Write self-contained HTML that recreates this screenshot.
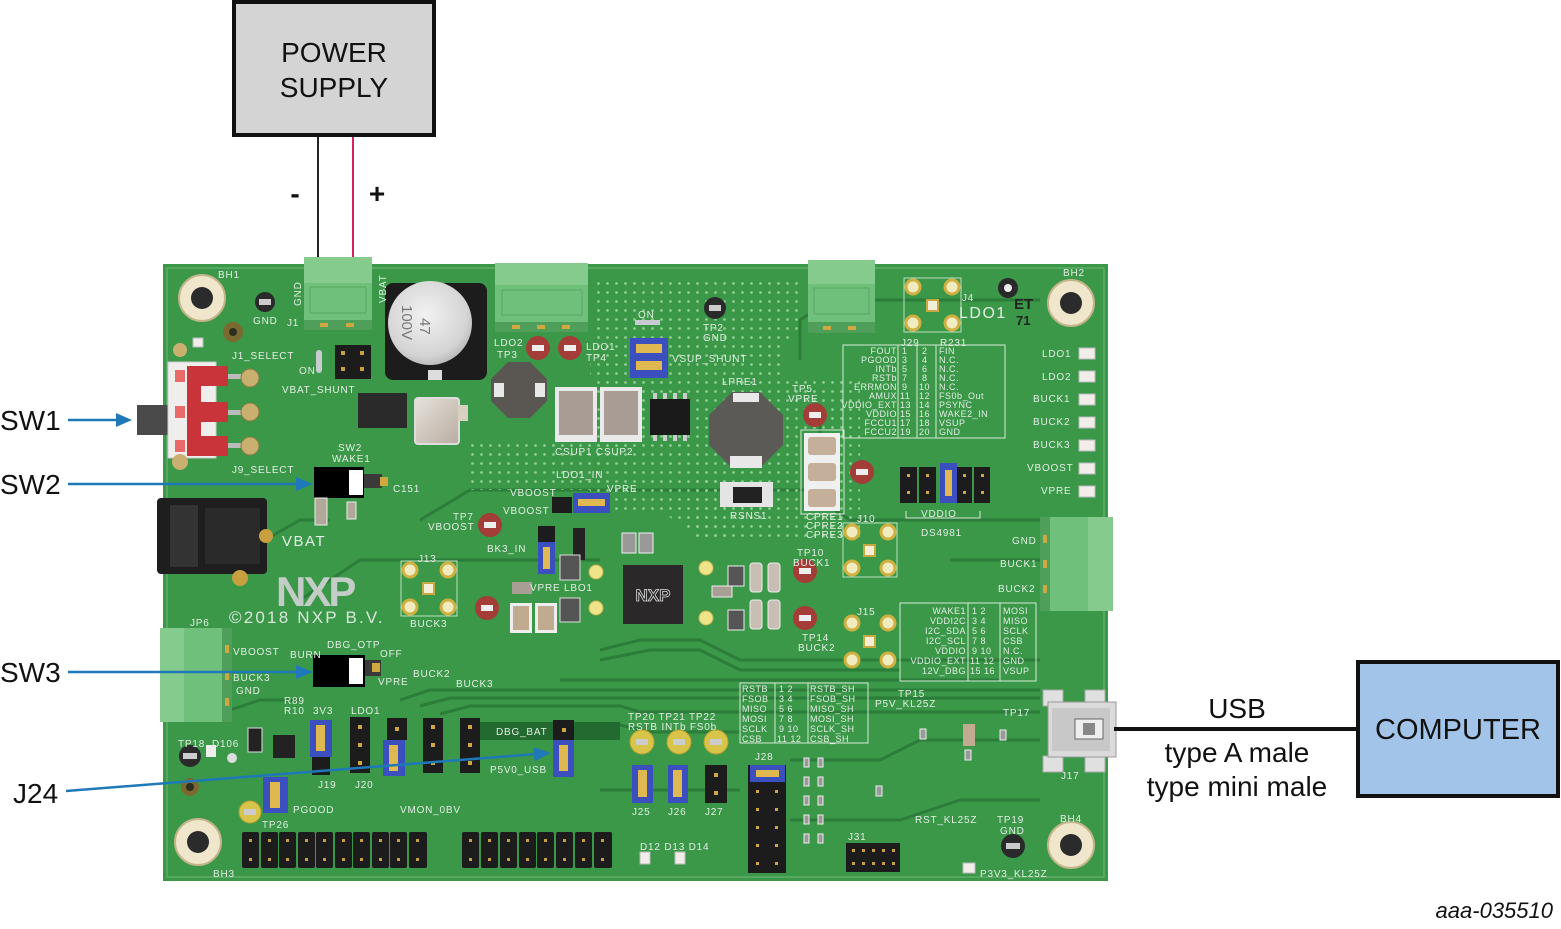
<!DOCTYPE html>
<html><head><meta charset="utf-8">
<style>
html,body{margin:0;padding:0;background:#fff;}
svg{display:block;}
text{font-family:"Liberation Sans",sans-serif;}
.s{fill:#e4eee4;font-size:10px;letter-spacing:0.8px;}
.sm{fill:#e4eee4;font-size:9px;letter-spacing:0.5px;}
.lbl{font-size:28px;fill:#111;}
</style></head><body>
<svg width="1561" height="929" viewBox="0 0 1561 929" xmlns="http://www.w3.org/2000/svg">
<defs>
<pattern id="dots" width="9" height="9" patternUnits="userSpaceOnUse"><circle cx="4.5" cy="4.5" r="1.4" fill="#8fcb92"/></pattern>
<radialGradient id="silver" cx="0.45" cy="0.4" r="0.7"><stop offset="0" stop-color="#f2f2f2"/><stop offset="0.7" stop-color="#d4d4d4"/><stop offset="1" stop-color="#a8a8a8"/></radialGradient>
<linearGradient id="cap" x1="0" y1="0" x2="1" y2="1"><stop offset="0" stop-color="#e6e2dc"/><stop offset="1" stop-color="#b8aca0"/></linearGradient>
</defs>
<rect width="1561" height="929" fill="#fff"/>

<!-- POWER SUPPLY -->
<rect x="234" y="2" width="200" height="133" fill="#d4d4d4" stroke="#111" stroke-width="4"/>
<text x="334" y="62" text-anchor="middle" class="lbl">POWER</text>
<text x="334" y="97" text-anchor="middle" class="lbl">SUPPLY</text>
<line x1="318" y1="137" x2="318" y2="260" stroke="#222" stroke-width="2"/>
<line x1="353" y1="137" x2="353" y2="260" stroke="#d8205a" stroke-width="2"/>
<text x="295" y="203" text-anchor="middle" font-size="28" font-weight="bold" fill="#111">-</text>
<text x="377" y="203" text-anchor="middle" font-size="28" font-weight="bold" fill="#111">+</text>

<!-- BOARD -->
<rect x="163" y="264" width="945" height="617" fill="#3a9848"/>
<rect x="167" y="268" width="937" height="609" fill="none" stroke="#5fae69" stroke-width="1.5"/>
<!-- darker trace areas -->
<g fill="none" stroke="#2b7d39" stroke-width="3">
<polyline points="420,520 470,490 840,490"/>
<polyline points="300,600 360,560 600,560"/>
<polyline points="230,560 300,520 330,520"/>
<polyline points="400,700 430,690 1040,690"/>
<polyline points="420,706 450,698 1040,698"/>
<polyline points="440,714 470,706 620,706 640,712 1040,712"/>
<polyline points="480,725 620,725 650,732 740,732"/>
<polyline points="600,650 640,640 700,640 740,660 1040,660"/>
<polyline points="600,660 650,650 700,650 740,670 900,670"/>
<polyline points="560,680 1000,680"/>
<polyline points="800,360 800,320 830,300 1040,300"/>
<polyline points="200,720 260,700 300,700"/>
<polyline points="600,790 740,790"/>
<polyline points="790,820 900,820 960,800 1040,800"/>
<polyline points="790,760 880,760 920,740 1040,740"/>
<polyline points="950,560 1040,560"/>
<polyline points="820,420 820,500 850,520 1040,520"/>
</g>
<rect x="480" y="722" width="140" height="18" fill="#236a30"/>
<!-- via grid -->
<polygon points="592,278 800,278 800,330 780,345 780,540 700,540 660,510 590,510 590,440 600,400 590,380" fill="url(#dots)"/>
<rect x="470" y="440" width="130" height="50" fill="url(#dots)"/>
<rect x="785" y="380" width="75" height="160" fill="url(#dots)"/>
<rect x="690" y="480" width="40" height="60" fill="url(#dots)"/>

<!-- Mounting holes -->
<g>
<circle cx="202" cy="298" r="23" fill="#efe6cc" stroke="#c4b48a" stroke-width="2"/><circle cx="202" cy="298" r="11" fill="#2b2b2b"/>
<circle cx="1071" cy="303" r="23" fill="#efe6cc" stroke="#c4b48a" stroke-width="2"/><circle cx="1071" cy="303" r="11" fill="#2b2b2b"/>
<circle cx="198" cy="842" r="23" fill="#efe6cc" stroke="#c4b48a" stroke-width="2"/><circle cx="198" cy="842" r="11" fill="#2b2b2b"/>
<circle cx="1071" cy="845" r="23" fill="#efe6cc" stroke="#c4b48a" stroke-width="2"/><circle cx="1071" cy="845" r="11" fill="#2b2b2b"/>
</g>

<!-- Terminal blocks -->
<g>
<!-- J1 -->
<rect x="304" y="257" width="68" height="73" fill="#6fc07a"/>
<rect x="304" y="257" width="68" height="26" fill="#84cb8d"/>
<rect x="310" y="287" width="56" height="26" fill="none" stroke="#5aa865"/>
<rect x="304" y="320" width="68" height="10" fill="#4f9f5a"/>
<rect x="320" y="323" width="8" height="4" fill="#d0a840"/><rect x="346" y="323" width="8" height="4" fill="#d0a840"/>
<!-- J2 -->
<rect x="495" y="263" width="93" height="69" fill="#6fc07a"/>
<rect x="495" y="263" width="93" height="22" fill="#84cb8d"/>
<rect x="502" y="290" width="80" height="25" fill="none" stroke="#5aa865"/>
<rect x="495" y="322" width="93" height="10" fill="#4f9f5a"/>
<rect x="512" y="325" width="8" height="4" fill="#d0a840"/><rect x="537" y="325" width="8" height="4" fill="#d0a840"/><rect x="562" y="325" width="8" height="4" fill="#d0a840"/>
<!-- J3 -->
<rect x="808" y="260" width="67" height="73" fill="#6fc07a"/>
<rect x="808" y="260" width="67" height="24" fill="#84cb8d"/>
<rect x="814" y="288" width="55" height="26" fill="none" stroke="#5aa865"/>
<rect x="808" y="322" width="67" height="11" fill="#4f9f5a"/>
<rect x="823" y="326" width="8" height="4" fill="#d0a840"/><rect x="848" y="326" width="8" height="4" fill="#d0a840"/>
<!-- J12 -->
<rect x="1040" y="517" width="73" height="94" fill="#6fc07a"/>
<rect x="1088" y="517" width="25" height="94" fill="#84cb8d"/>
<rect x="1040" y="517" width="10" height="94" fill="#4f9f5a"/>
<rect x="1043" y="535" width="4" height="8" fill="#d0a840"/><rect x="1043" y="560" width="4" height="8" fill="#d0a840"/><rect x="1043" y="585" width="4" height="8" fill="#d0a840"/>
<!-- JP6 -->
<rect x="160" y="628" width="72" height="94" fill="#6fc07a"/>
<rect x="160" y="628" width="24" height="94" fill="#84cb8d"/>
<rect x="222" y="628" width="10" height="94" fill="#4f9f5a"/>
<rect x="225" y="645" width="4" height="8" fill="#d0a840"/><rect x="225" y="672" width="4" height="8" fill="#d0a840"/><rect x="225" y="698" width="4" height="8" fill="#d0a840"/>
</g>

<!-- CBAT1 -->
<rect x="385" y="283" width="102" height="97" rx="8" fill="#1c1c1c"/>
<circle cx="430" cy="323" r="42" fill="url(#silver)"/>
<text x="420" y="318" transform="rotate(90 420 318)" font-size="15" fill="#777">47</text>
<text x="402" y="305" transform="rotate(90 402 305)" font-size="15" fill="#777">100V</text>
<rect x="428" y="370" width="14" height="10" fill="#ddd"/>

<!-- Test points -->
<g>
<circle cx="265" cy="302" r="10" fill="#2a2a2a"/><rect x="259" y="299" width="12" height="6" fill="#ccc"/>
<circle cx="233" cy="332" r="10" fill="#7a6a30"/><circle cx="233" cy="332" r="4" fill="#2d2d20"/>
<circle cx="715" cy="308" r="11" fill="#2a2a2a"/><rect x="709" y="305" width="12" height="6" fill="#ccc"/>
<circle cx="1008" cy="288" r="10" fill="#2a2a2a"/><circle cx="1008" cy="288" r="4" fill="#eee"/>
<circle cx="190" cy="756" r="11" fill="#2a2a2a"/><rect x="183" y="753" width="14" height="6" fill="#ccc"/>
<circle cx="1013" cy="846" r="12" fill="#2a2a2a"/><rect x="1006" y="843" width="14" height="6" fill="#ccc"/>
<circle cx="190" cy="787" r="9" fill="#7a6a30"/><circle cx="190" cy="787" r="4" fill="#2d2d20"/>
<circle cx="232" cy="758" r="5" fill="#ddd"/>
</g>
<g fill="#a43c38">
<circle cx="538" cy="348" r="12"/><circle cx="570" cy="348" r="12"/>
<circle cx="490" cy="525" r="12"/><circle cx="487" cy="608" r="12"/>
<circle cx="815" cy="415" r="12"/><circle cx="862" cy="472" r="12"/>
<circle cx="805" cy="571" r="12"/><circle cx="805" cy="618" r="12"/>
</g>
<g fill="#eee">
<rect x="532" y="345" width="12" height="6"/><rect x="564" y="345" width="12" height="6"/>
<rect x="484" y="522" width="12" height="6"/><rect x="481" y="605" width="12" height="6"/>
<rect x="809" y="412" width="12" height="6"/><rect x="856" y="469" width="12" height="6"/>
<rect x="799" y="568" width="12" height="6"/><rect x="799" y="615" width="12" height="6"/>
</g>
<g fill="#d9c44a" stroke="#b8a030" stroke-width="1">
<circle cx="642" cy="742" r="12"/><circle cx="679" cy="742" r="12"/><circle cx="716" cy="742" r="12"/>
<circle cx="250" cy="812" r="11"/>
</g>
<g fill="#ccc"><rect x="636" y="739" width="12" height="6"/><rect x="673" y="739" width="12" height="6"/><rect x="710" y="739" width="12" height="6"/><rect x="244" y="809" width="12" height="6"/></g>
<g fill="#efe48a" stroke="#c8b850">
<circle cx="596" cy="572" r="7"/><circle cx="596" cy="608" r="7"/><circle cx="706" cy="568" r="7"/><circle cx="706" cy="618" r="7"/>
</g>

<!-- pad clusters J13 J10 J4 J15 -->
<g fill="#f1ecc0" stroke="#d0b040" stroke-width="3">
<circle cx="410" cy="570" r="7"/><circle cx="448" cy="570" r="7"/><circle cx="410" cy="607" r="7"/><circle cx="448" cy="607" r="7"/>
<circle cx="852" cy="532" r="7"/><circle cx="888" cy="532" r="7"/><circle cx="852" cy="568" r="7"/><circle cx="888" cy="568" r="7"/>
<circle cx="913" cy="287" r="7"/><circle cx="952" cy="287" r="7"/><circle cx="913" cy="323" r="7"/><circle cx="952" cy="323" r="7"/>
<circle cx="852" cy="623" r="7"/><circle cx="888" cy="623" r="7"/><circle cx="852" cy="660" r="7"/><circle cx="888" cy="660" r="7"/>
</g>
<g fill="#f4f0d8" stroke="#c8a840" stroke-width="2">
<rect x="423" y="583" width="11" height="11"/><rect x="864" y="545" width="11" height="11"/><rect x="927" y="300" width="11" height="11"/><rect x="864" y="636" width="11" height="11"/>
</g>
<g fill="none" stroke="#bfe0c0" stroke-width="1">
<rect x="401" y="561" width="56" height="55"/><rect x="843" y="523" width="54" height="54"/><rect x="904" y="278" width="57" height="54"/>
</g>

<!-- SW1 slide switch -->
<rect x="137" y="405" width="33" height="30" fill="#4a4a4a"/>
<rect x="168" y="362" width="48" height="96" fill="#f0eeec" stroke="#ccc"/>
<g fill="#c8343a">
<rect x="187" y="366" width="14" height="88"/>
<rect x="187" y="366" width="41" height="20"/><rect x="187" y="402" width="41" height="20"/><rect x="187" y="436" width="41" height="20"/>
</g>
<g fill="#e86a6a"><rect x="175" y="370" width="10" height="12"/><rect x="175" y="406" width="10" height="12"/><rect x="175" y="440" width="10" height="12"/></g>
<g fill="#bbb"><rect x="228" y="374" width="22" height="5"/><rect x="228" y="410" width="22" height="5"/><rect x="228" y="443" width="22" height="5"/></g>
<g fill="#c9b070" stroke="#8a7a40"><circle cx="250" cy="378" r="9"/><circle cx="250" cy="412" r="9"/><circle cx="250" cy="446" r="9"/></g>
<circle cx="180" cy="462" r="8" fill="#c9b070"/>
<circle cx="180" cy="350" r="7" fill="#c9b070"/>

<!-- DC jack J9 -->
<rect x="157" y="498" width="110" height="76" rx="4" fill="#1e1e1e"/>
<rect x="170" y="505" width="28" height="62" fill="#333"/>
<rect x="205" y="508" width="55" height="56" fill="#2a2a2a"/>
<circle cx="266" cy="536" r="7" fill="#c9a040"/>
<circle cx="240" cy="578" r="8" fill="#c9a040"/>

<!-- SW2 -->
<rect x="314" y="467" width="50" height="31" fill="#000"/>
<rect x="349" y="470" width="14" height="25" fill="#fff"/>
<rect x="364" y="474" width="18" height="14" fill="#3a3a3a"/>
<rect x="380" y="477" width="8" height="9" fill="#d0a840"/>
<!-- SW3 -->
<rect x="313" y="655" width="52" height="32" fill="#000"/>
<rect x="349" y="658" width="14" height="26" fill="#fff"/>
<rect x="365" y="660" width="16" height="16" fill="#3a3a3a"/>
<rect x="372" y="663" width="8" height="9" fill="#d0a840"/>

<!-- misc components top -->
<rect x="335" y="345" width="36" height="34" fill="#1c1c1c"/>
<g fill="#c8a040"><rect x="341" y="351" width="4" height="4"/><rect x="360" y="351" width="4" height="4"/><rect x="341" y="367" width="4" height="4"/><rect x="360" y="367" width="4" height="4"/></g>
<rect x="316" y="350" width="6" height="23" rx="3" fill="#c8ccd0"/>
<rect x="358" y="393" width="49" height="35" fill="#2a2a2a"/>
<rect x="415" y="398" width="44" height="46" rx="3" fill="url(#cap)" stroke="#ddd" stroke-width="2"/>
<rect x="458" y="405" width="10" height="16" fill="#d8d0c0"/>
<!-- LP1 -->
<polygon points="508,362 530,362 547,379 547,401 530,418 508,418 491,401 491,379" fill="#5a5753"/>
<rect x="494" y="383" width="10" height="14" fill="#e8e8e8"/><rect x="535" y="383" width="10" height="14" fill="#e8e8e8"/>
<!-- CSUP -->
<rect x="555" y="387" width="42" height="55" fill="#eaeaea"/><rect x="559" y="391" width="34" height="44" fill="#a89c94"/>
<rect x="600" y="387" width="42" height="55" fill="#eaeaea"/><rect x="604" y="391" width="34" height="44" fill="#a89c94"/>
<!-- Q1 -->
<rect x="650" y="399" width="40" height="36" fill="#1a1a1a"/>
<g fill="#ccc"><rect x="653" y="393" width="4" height="6"/><rect x="663" y="393" width="4" height="6"/><rect x="673" y="393" width="4" height="6"/><rect x="683" y="393" width="4" height="6"/>
<rect x="653" y="435" width="4" height="6"/><rect x="663" y="435" width="4" height="6"/><rect x="673" y="435" width="4" height="6"/><rect x="683" y="435" width="4" height="6"/></g>
<!-- VSUP shunt jumper -->
<rect x="630" y="338" width="38" height="40" fill="#3b4fbf"/>
<rect x="636" y="344" width="26" height="9" fill="#e0b850"/><rect x="636" y="361" width="26" height="9" fill="#e0b850"/>
<rect x="635" y="320" width="25" height="5" fill="#c8ccd0"/>
<!-- LPRE1 -->
<polygon points="732,392 760,392 783,415 783,445 760,468 732,468 709,445 709,415" fill="#5c5a56"/>
<rect x="733" y="393" width="26" height="9" fill="#e8e8e8"/><rect x="730" y="456" width="32" height="12" fill="#e8e8e8"/>
<!-- RSNS1 -->
<rect x="720" y="482" width="53" height="25" fill="#e4e4e4"/><rect x="733" y="487" width="29" height="16" fill="#222"/>
<!-- CPRE caps -->
<g fill="#f0f0f0"><rect x="804" y="433" width="36" height="26"/><rect x="804" y="459" width="36" height="26"/><rect x="804" y="485" width="36" height="26"/></g>
<g fill="#c4b09a"><rect x="808" y="437" width="28" height="18" rx="3"/><rect x="808" y="463" width="28" height="18" rx="3"/><rect x="808" y="489" width="28" height="18" rx="3"/></g>
<!-- J7 -->
<rect x="552" y="497" width="20" height="16" fill="#1c1c1c"/>
<rect x="573" y="493" width="37" height="20" fill="#3b4fbf"/><rect x="578" y="499" width="27" height="7" fill="#e0b850"/>
<!-- J11 -->
<rect x="538" y="526" width="17" height="16" fill="#1c1c1c"/>
<rect x="538" y="542" width="17" height="32" fill="#3b4fbf"/><rect x="543" y="547" width="7" height="22" fill="#e0b850"/>
<rect x="573" y="528" width="12" height="32" fill="#222"/>
<rect x="560" y="555" width="20" height="25" fill="#555" stroke="#ddd"/>
<rect x="560" y="598" width="20" height="24" fill="#555" stroke="#ddd"/>
<rect x="510" y="603" width="22" height="30" fill="#eee"/><rect x="513" y="606" width="16" height="24" fill="#c0aa90"/>
<rect x="535" y="603" width="22" height="30" fill="#eee"/><rect x="538" y="606" width="16" height="24" fill="#c0aa90"/>
<rect x="512" y="582" width="20" height="12" fill="#a89e94"/>
<rect x="315" y="498" width="12" height="27" fill="#b0a898" stroke="#eee"/>
<rect x="347" y="502" width="9" height="17" fill="#b0a898" stroke="#eee"/>
<rect x="622" y="533" width="14" height="20" fill="#999" stroke="#eee"/><rect x="639" y="533" width="14" height="20" fill="#999" stroke="#eee"/>

<!-- NXP chip -->
<rect x="623" y="565" width="60" height="59" fill="#2a2828"/>
<text x="653" y="601" text-anchor="middle" font-size="17" font-weight="bold" fill="none" stroke="#ddd" stroke-width="0.8">NXP</text>
<g fill="#999">
<rect x="728" y="566" width="16" height="20" fill="#555" stroke="#eee"/><rect x="728" y="610" width="16" height="20" fill="#555" stroke="#eee"/>
<rect x="750" y="563" width="12" height="29" rx="3" fill="#c8beb4" stroke="#eee"/><rect x="768" y="563" width="12" height="29" rx="3" fill="#c8beb4" stroke="#eee"/>
<rect x="750" y="600" width="12" height="29" rx="3" fill="#c8beb4" stroke="#eee"/><rect x="768" y="600" width="12" height="29" rx="3" fill="#c8beb4" stroke="#eee"/>
<rect x="712" y="586" width="20" height="11" fill="#a89e94" stroke="#eee"/>
</g>

<!-- NXP logo & copyright -->
<text x="276" y="606" font-size="42" font-weight="bold" fill="#c4ccc8" letter-spacing="-3">NXP</text>
<text x="229" y="623" font-size="17" fill="#dbe8dc" letter-spacing="2.2">©2018 NXP B.V.</text>

<!-- J8 header -->
<g fill="#1c1c1c"><rect x="900" y="467" width="17" height="36"/><rect x="919" y="467" width="17" height="36"/><rect x="957" y="467" width="15" height="36"/><rect x="974" y="467" width="16" height="36"/></g>
<rect x="940" y="463" width="17" height="40" fill="#3b4fbf"/><rect x="945" y="470" width="7" height="26" fill="#e0b850"/>
<g fill="#d0a840"><rect x="907" y="474" width="3" height="3"/><rect x="907" y="491" width="3" height="3"/><rect x="926" y="474" width="3" height="3"/><rect x="926" y="491" width="3" height="3"/><rect x="963" y="474" width="3" height="3"/><rect x="963" y="491" width="3" height="3"/><rect x="981" y="474" width="3" height="3"/><rect x="981" y="491" width="3" height="3"/></g>

<!-- LEDs right column -->
<g fill="#f2ede8" stroke="#bbb"><rect x="1079" y="348" width="16" height="11"/><rect x="1079" y="371" width="16" height="11"/><rect x="1079" y="394" width="16" height="11"/><rect x="1079" y="417" width="16" height="11"/><rect x="1079" y="440" width="16" height="11"/><rect x="1079" y="463" width="16" height="11"/><rect x="1079" y="486" width="16" height="11"/></g>
<g fill="#f2ede8" stroke="#bbb"><rect x="640" y="852" width="10" height="12"/><rect x="675" y="852" width="10" height="12"/><rect x="963" y="863" width="12" height="10"/><rect x="193" y="338" width="10" height="9"/></g>

<!-- lower left jumpers / headers -->
<rect x="310" y="720" width="22" height="37" fill="#3b4fbf"/><rect x="316" y="725" width="9" height="26" fill="#e0b850"/>
<rect x="312" y="757" width="18" height="18" fill="#1c1c1c"/>
<rect x="350" y="717" width="20" height="56" fill="#1c1c1c"/>
<rect x="387" y="718" width="20" height="22" fill="#1c1c1c"/>
<rect x="383" y="740" width="22" height="36" fill="#3b4fbf"/><rect x="389" y="745" width="9" height="26" fill="#e0b850"/>
<rect x="423" y="718" width="20" height="55" fill="#1c1c1c"/>
<rect x="460" y="718" width="20" height="55" fill="#1c1c1c"/>
<rect x="553" y="720" width="21" height="20" fill="#1c1c1c"/>
<rect x="553" y="740" width="21" height="37" fill="#3b4fbf"/><rect x="559" y="745" width="9" height="26" fill="#e0b850"/>
<rect x="263" y="777" width="25" height="36" fill="#3b4fbf"/><rect x="270" y="782" width="10" height="26" fill="#e0b850"/>
<rect x="273" y="735" width="22" height="23" fill="#222"/>
<rect x="248" y="728" width="14" height="24" fill="#222" stroke="#ddd"/>
<rect x="206" y="745" width="10" height="12" fill="#eee"/>
<g fill="#d0a840"><rect x="358" y="725" width="4" height="4"/><rect x="358" y="743" width="4" height="4"/><rect x="358" y="761" width="4" height="4"/><rect x="431" y="725" width="4" height="4"/><rect x="431" y="743" width="4" height="4"/><rect x="431" y="761" width="4" height="4"/><rect x="468" y="725" width="4" height="4"/><rect x="468" y="743" width="4" height="4"/><rect x="468" y="761" width="4" height="4"/><rect x="395" y="727" width="4" height="4"/><rect x="562" y="728" width="4" height="4"/></g>

<!-- bottom headers -->
<g fill="#1c1c1c">
<rect x="242" y="832" width="17" height="36" rx="2"/><rect x="261" y="832" width="17" height="36" rx="2"/><rect x="279" y="832" width="17" height="36" rx="2"/><rect x="298" y="832" width="17" height="36" rx="2"/><rect x="316" y="832" width="17" height="36" rx="2"/><rect x="335" y="832" width="17" height="36" rx="2"/><rect x="353" y="832" width="17" height="36" rx="2"/><rect x="372" y="832" width="17" height="36" rx="2"/><rect x="390" y="832" width="17" height="36" rx="2"/><rect x="409" y="832" width="18" height="36" rx="2"/>
<rect x="462" y="832" width="17" height="36" rx="2"/><rect x="481" y="832" width="17" height="36" rx="2"/><rect x="500" y="832" width="17" height="36" rx="2"/><rect x="519" y="832" width="17" height="36" rx="2"/><rect x="537" y="832" width="17" height="36" rx="2"/><rect x="556" y="832" width="17" height="36" rx="2"/><rect x="575" y="832" width="17" height="36" rx="2"/><rect x="594" y="832" width="18" height="36" rx="2"/>
</g>
<g fill="#c8a040">
<rect x="249" y="839" width="3" height="3"/><rect x="249" y="858" width="3" height="3"/><rect x="268" y="839" width="3" height="3"/><rect x="268" y="858" width="3" height="3"/><rect x="286" y="839" width="3" height="3"/><rect x="286" y="858" width="3" height="3"/><rect x="305" y="839" width="3" height="3"/><rect x="305" y="858" width="3" height="3"/><rect x="323" y="839" width="3" height="3"/><rect x="323" y="858" width="3" height="3"/><rect x="342" y="839" width="3" height="3"/><rect x="342" y="858" width="3" height="3"/><rect x="360" y="839" width="3" height="3"/><rect x="360" y="858" width="3" height="3"/><rect x="379" y="839" width="3" height="3"/><rect x="379" y="858" width="3" height="3"/><rect x="397" y="839" width="3" height="3"/><rect x="397" y="858" width="3" height="3"/><rect x="416" y="839" width="3" height="3"/><rect x="416" y="858" width="3" height="3"/>
<rect x="469" y="839" width="3" height="3"/><rect x="469" y="858" width="3" height="3"/><rect x="488" y="839" width="3" height="3"/><rect x="488" y="858" width="3" height="3"/><rect x="507" y="839" width="3" height="3"/><rect x="507" y="858" width="3" height="3"/><rect x="526" y="839" width="3" height="3"/><rect x="526" y="858" width="3" height="3"/><rect x="544" y="839" width="3" height="3"/><rect x="544" y="858" width="3" height="3"/><rect x="563" y="839" width="3" height="3"/><rect x="563" y="858" width="3" height="3"/><rect x="582" y="839" width="3" height="3"/><rect x="582" y="858" width="3" height="3"/><rect x="601" y="839" width="3" height="3"/><rect x="601" y="858" width="3" height="3"/>
</g>

<!-- J25 J26 J27 -->
<rect x="632" y="765" width="21" height="38" fill="#3b4fbf"/><rect x="638" y="770" width="9" height="27" fill="#e0b850"/>
<rect x="668" y="765" width="20" height="38" fill="#3b4fbf"/><rect x="673" y="770" width="9" height="27" fill="#e0b850"/>
<rect x="705" y="765" width="22" height="38" fill="#1c1c1c"/>
<g fill="#d0a840"><rect x="714" y="773" width="4" height="4"/><rect x="714" y="791" width="4" height="4"/></g>
<!-- J28 -->
<rect x="748" y="765" width="38" height="108" fill="#1c1c1c"/>
<rect x="750" y="765" width="35" height="17" fill="#3b4fbf"/><rect x="756" y="770" width="23" height="7" fill="#e0b850"/>
<g fill="#d0a840"><rect x="756" y="790" width="3" height="3"/><rect x="775" y="790" width="3" height="3"/><rect x="756" y="808" width="3" height="3"/><rect x="775" y="808" width="3" height="3"/><rect x="756" y="826" width="3" height="3"/><rect x="775" y="826" width="3" height="3"/><rect x="756" y="844" width="3" height="3"/><rect x="775" y="844" width="3" height="3"/><rect x="756" y="862" width="3" height="3"/><rect x="775" y="862" width="3" height="3"/></g>
<!-- small caps column -->
<g fill="#999" stroke="#eee"><rect x="804" y="758" width="5" height="9"/><rect x="818" y="758" width="5" height="9"/><rect x="804" y="777" width="5" height="9"/><rect x="818" y="777" width="5" height="9"/><rect x="804" y="796" width="5" height="9"/><rect x="818" y="796" width="5" height="9"/><rect x="804" y="815" width="5" height="9"/><rect x="818" y="815" width="5" height="9"/><rect x="804" y="834" width="5" height="9"/><rect x="818" y="834" width="5" height="9"/><rect x="965" y="750" width="6" height="10"/><rect x="1000" y="730" width="6" height="10"/><rect x="920" y="729" width="6" height="10"/><rect x="876" y="786" width="6" height="10"/></g>
<rect x="963" y="724" width="12" height="22" fill="#c0aa90"/>
<!-- J31 -->
<rect x="846" y="843" width="54" height="29" fill="#1c1c1c"/>
<g fill="#c8a040"><rect x="852" y="849" width="3" height="3"/><rect x="862" y="849" width="3" height="3"/><rect x="872" y="849" width="3" height="3"/><rect x="882" y="849" width="3" height="3"/><rect x="892" y="849" width="3" height="3"/><rect x="852" y="862" width="3" height="3"/><rect x="862" y="862" width="3" height="3"/><rect x="872" y="862" width="3" height="3"/><rect x="882" y="862" width="3" height="3"/><rect x="892" y="862" width="3" height="3"/></g>

<!-- USB connector J17 -->
<rect x="1043" y="690" width="20" height="16" fill="#e0e0e0" stroke="#aaa"/><rect x="1043" y="756" width="20" height="16" fill="#e0e0e0" stroke="#aaa"/>
<rect x="1085" y="690" width="20" height="16" fill="#e0e0e0" stroke="#aaa"/><rect x="1085" y="756" width="20" height="16" fill="#e0e0e0" stroke="#aaa"/>
<rect x="1048" y="702" width="68" height="55" fill="#dadada" stroke="#999"/>
<rect x="1052" y="708" width="58" height="43" fill="#c8c8c8"/>
<rect x="1075" y="719" width="28" height="20" fill="#eee" stroke="#666"/>
<rect x="1083" y="723" width="12" height="12" fill="#888"/>

<!-- silkscreen boxes -->
<g fill="none" stroke="#d8e8d8" stroke-width="1">
<rect x="843" y="345" width="162" height="93"/><line x1="898" y1="345" x2="898" y2="438"/><line x1="917" y1="345" x2="917" y2="438"/><line x1="936" y1="345" x2="936" y2="438"/>
<rect x="740" y="683" width="128" height="60"/><line x1="775" y1="683" x2="775" y2="743"/><line x1="808" y1="683" x2="808" y2="743"/>
<rect x="900" y="603" width="136" height="78"/><line x1="968" y1="603" x2="968" y2="681"/><line x1="1000" y1="603" x2="1000" y2="681"/>
<polyline points="906,511 906,518 980,518 980,511"/>
<rect x="801" y="430" width="43" height="84"/>
</g>

<!-- silkscreen text -->
<g class="s">
<text x="218" y="278">BH1</text>
<text x="253" y="324">GND</text><text x="287" y="326">J1</text>
<text x="301" y="306" transform="rotate(-90 301 306)">GND</text>
<text x="386" y="303" transform="rotate(-90 386 303)">VBAT</text>
<text x="232" y="359">J1_SELECT</text><text x="282" y="393">VBAT_SHUNT</text>
<text x="299" y="374">ON</text>
<text x="232" y="473">J9_SELECT</text>
<text x="338" y="451">SW2</text><text x="332" y="462">WAKE1</text>
<text x="393" y="492">C151</text>
<text x="510" y="496">VBOOST</text><text x="503" y="514">VBOOST</text>
<text x="428" y="530">VBOOST</text><text x="453" y="520">TP7</text>
<text x="556" y="478">LDO1_IN</text><text x="607" y="492">VPRE</text>
<text x="487" y="552">BK3_IN</text>
<text x="530" y="591">VPRE LBO1</text>
<text x="410" y="627">BUCK3</text><text x="418" y="562">J13</text>
<text x="494" y="346">LDO2</text><text x="586" y="350">LDO1</text>
<text x="497" y="358">TP3</text><text x="586" y="361">TP4</text>
<text x="672" y="362">VSUP_SHUNT</text><text x="638" y="318">ON</text>
<text x="703" y="331">TP2</text><text x="703" y="341">GND</text>
<text x="555" y="455">CSUP1 CSUP2</text>
<text x="722" y="385">LPRE1</text>
<text x="730" y="519">RSNS1</text>
<text x="792" y="392">TP5</text><text x="788" y="402">VPRE</text>
<text x="806" y="520">CPRE1</text><text x="806" y="529">CPRE2</text><text x="806" y="538">CPRE3</text>
<text x="797" y="556">TP10</text><text x="793" y="566">BUCK1</text>
<text x="802" y="641">TP14</text><text x="798" y="651">BUCK2</text>
<text x="857" y="522">J10</text><text x="857" y="615">J15</text>
<text x="921" y="536">DS4981</text>
<text x="921" y="517">VDDIO</text>
<text x="1012" y="544">GND</text><text x="1000" y="567">BUCK1</text><text x="998" y="592">BUCK2</text>
<text x="901" y="346">J29</text><text x="940" y="346">R231</text>
<text x="1042" y="357">LDO1</text><text x="1042" y="380">LDO2</text><text x="1033" y="402">BUCK1</text><text x="1033" y="425">BUCK2</text><text x="1033" y="448">BUCK3</text><text x="1027" y="471">VBOOST</text><text x="1041" y="494">VPRE</text>
<text x="962" y="301">J4</text>
<text x="190" y="626">JP6</text>
<text x="327" y="648">DBG_OTP</text><text x="290" y="658">BURN</text><text x="380" y="657">OFF</text>
<text x="233" y="655">VBOOST</text><text x="233" y="681">BUCK3</text><text x="236" y="694">GND</text>
<text x="378" y="685">VPRE</text><text x="413" y="677">BUCK2</text><text x="456" y="687">BUCK3</text>
<text x="284" y="704">R89</text><text x="284" y="714">R10</text><text x="313" y="714">3V3</text><text x="351" y="714">LDO1</text>
<text x="496" y="735">DBG_BAT</text><text x="490" y="773">P5V0_USB</text>
<text x="400" y="813">VMON_0BV</text><text x="293" y="813">PGOOD</text>
<text x="318" y="788">J19</text><text x="355" y="788">J20</text>
<text x="178" y="747">TP18</text><text x="212" y="747">D106</text>
<text x="262" y="828">TP26</text><text x="213" y="877">BH3</text>
<text x="628" y="720">TP20 TP21 TP22</text>
<text x="628" y="730">RSTB INTb FS0b</text>
<text x="632" y="815">J25</text><text x="668" y="815">J26</text><text x="705" y="815">J27</text>
<text x="755" y="760">J28</text>
<text x="898" y="697">TP15</text><text x="875" y="707">P5V_KL25Z</text>
<text x="915" y="823">RST_KL25Z</text>
<text x="997" y="823">TP19</text><text x="1000" y="834">GND</text>
<text x="980" y="877">P3V3_KL25Z</text>
<text x="1061" y="779">J17</text><text x="1060" y="822">BH4</text><text x="1003" y="716">TP17</text>
<text x="640" y="850">D12 D13 D14</text>
<text x="848" y="840">J31</text>
<text x="1063" y="276">BH2</text>
</g>
<g class="sm">
<text x="897" y="354" text-anchor="end">FOUT</text><text x="897" y="363" text-anchor="end">PGOOD</text><text x="897" y="372" text-anchor="end">INTb</text><text x="897" y="381" text-anchor="end">RSTb</text><text x="897" y="390" text-anchor="end">ERRMON</text><text x="897" y="399" text-anchor="end">AMUX</text><text x="897" y="408" text-anchor="end">VDDIO_EXT</text><text x="897" y="417" text-anchor="end">VDDIO</text><text x="897" y="426" text-anchor="end">FCCU1</text><text x="897" y="435" text-anchor="end">FCCU2</text>
<text x="902" y="354">1</text><text x="902" y="363">3</text><text x="902" y="372">5</text><text x="902" y="381">7</text><text x="902" y="390">9</text><text x="900" y="399">11</text><text x="900" y="408">13</text><text x="900" y="417">15</text><text x="900" y="426">17</text><text x="900" y="435">19</text>
<text x="922" y="354">2</text><text x="922" y="363">4</text><text x="922" y="372">6</text><text x="922" y="381">8</text><text x="919" y="390">10</text><text x="919" y="399">12</text><text x="919" y="408">14</text><text x="919" y="417">16</text><text x="919" y="426">18</text><text x="919" y="435">20</text>
<text x="939" y="354">FIN</text><text x="939" y="363">N.C.</text><text x="939" y="372">N.C.</text><text x="939" y="381">N.C.</text><text x="939" y="390">N.C.</text><text x="939" y="399">FS0b_Out</text><text x="939" y="408">PSYNC</text><text x="939" y="417">WAKE2_IN</text><text x="939" y="426">VSUP</text><text x="939" y="435">GND</text>
<text x="742" y="692">RSTB</text><text x="742" y="702">FSOB</text><text x="742" y="712">MISO</text><text x="742" y="722">MOSI</text><text x="742" y="732">SCLK</text><text x="742" y="742">CSB</text>
<text x="779" y="692">1 2</text><text x="779" y="702">3 4</text><text x="779" y="712">5 6</text><text x="779" y="722">7 8</text><text x="779" y="732">9 10</text><text x="777" y="742">11 12</text>
<text x="810" y="692">RSTB_SH</text><text x="810" y="702">FSOB_SH</text><text x="810" y="712">MISO_SH</text><text x="810" y="722">MOSI_SH</text><text x="810" y="732">SCLK_SH</text><text x="810" y="742">CSB_SH</text>
<text x="966" y="614" text-anchor="end">WAKE1</text><text x="966" y="624" text-anchor="end">VDDI2C</text><text x="966" y="634" text-anchor="end">I2C_SDA</text><text x="966" y="644" text-anchor="end">I2C_SCL</text><text x="966" y="654" text-anchor="end">VDDIO</text><text x="966" y="664" text-anchor="end">VDDIO_EXT</text><text x="966" y="674" text-anchor="end">12V_DBG</text>
<text x="972" y="614">1 2</text><text x="972" y="624">3 4</text><text x="972" y="634">5 6</text><text x="972" y="644">7 8</text><text x="972" y="654">9 10</text><text x="970" y="664">11 12</text><text x="970" y="674">15 16</text>
<text x="1003" y="614">MOSI</text><text x="1003" y="624">MISO</text><text x="1003" y="634">SCLK</text><text x="1003" y="644">CSB</text><text x="1003" y="654">N.C.</text><text x="1003" y="664">GND</text><text x="1003" y="674">VSUP</text>
</g>
<text x="959" y="318" font-size="16" fill="#e4eee4" letter-spacing="1.5">LDO1</text>
<text x="282" y="546" font-size="15" fill="#e4eee4" letter-spacing="1.5">VBAT</text>
<text x="1014" y="309" font-size="15" font-weight="bold" fill="#222">ET</text>
<text x="1016" y="325" font-size="13" font-weight="bold" fill="#222">71</text>

<!-- COMPUTER -->
<rect x="1358" y="662" width="200" height="134" fill="#a2c4e8" stroke="#111" stroke-width="4"/>
<text x="1458" y="739" text-anchor="middle" font-size="29" fill="#111">COMPUTER</text>
<line x1="1114" y1="729" x2="1358" y2="729" stroke="#111" stroke-width="4"/>
<text x="1237" y="718" text-anchor="middle" class="lbl">USB</text>
<text x="1237" y="762" text-anchor="middle" class="lbl">type A male</text>
<text x="1237" y="796" text-anchor="middle" class="lbl">type mini male</text>

<!-- Callouts -->
<g fill="#1f78b8" stroke="none">
<polygon points="132,420 116,413 116,427"/>
<polygon points="313,484 296,477 296,491"/>
<polygon points="313,672 296,665 296,679"/>
<polygon points="551,753 534.6,761.3 533.6,747.3"/>
</g>
<g stroke="#1f78b8" stroke-width="2.5">
<line x1="68" y1="420" x2="118" y2="420"/>
<line x1="68" y1="484" x2="298" y2="484"/>
<line x1="68" y1="672" x2="298" y2="672"/>
<line x1="66" y1="791" x2="536" y2="754"/>
</g>
<text x="0" y="430" class="lbl">SW1</text>
<text x="0" y="494" class="lbl">SW2</text>
<text x="0" y="682" class="lbl">SW3</text>
<text x="13" y="803" class="lbl">J24</text>

<text x="1553" y="918" text-anchor="end" font-size="22" font-style="italic" fill="#111">aaa-035510</text>
</svg>
</body></html>
